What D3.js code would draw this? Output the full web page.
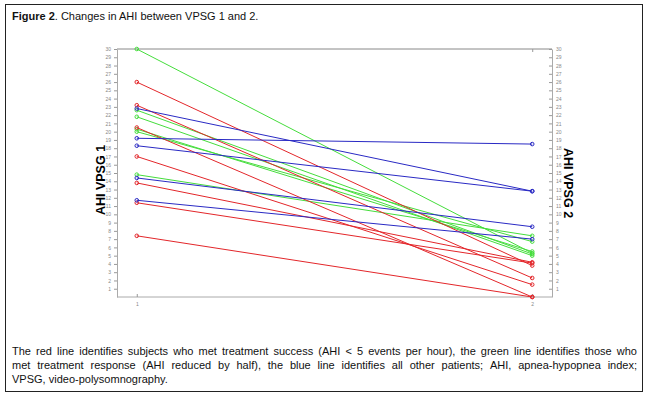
<!DOCTYPE html>
<html>
<head>
<meta charset="utf-8">
<script src="https://cdn.jsdelivr.net/npm/d3@7"></script>
<style>
body{margin:0;background:#fff;}
svg{display:block;font-family:"Liberation Sans",Arial,sans-serif;}
</style>
</head>
<body>
<div id="plot"></div>
<script>
// AHI per subject at the two sessions, and response group
var vpsg1 = [30, 22.6, 21.8, 20.3, 20.0, 14.8,
	26, 23.2, 20.5, 17.0, 13.8, 11.4, 7.4,
	22.8, 19.2, 18.3, 14.4, 11.7];
var vpsg2 = [5.3, 5.2, 5.0, 5.5, 6.7, 7.4,
	3.8, 2.3, 0, 1.5, 4.2, 4.1, 0,
	12.8, 18.5, 12.8, 8.5, 7.0];
var group = ['response','response','response','response','response','response',
	'success','success','success','success','success','success','success',
	'other','other','other','other','other'];
var sessions = [1, 2];
var yTicks = d3.range(1, 31);

var captionLines = [
	'The red line identifies subjects who met treatment success (AHI < 5 events per hour), the green line identifies those who',
	'met treatment response (AHI reduced by half), the blue line identifies all other patients; AHI, apnea-hypopnea index;',
	'VPSG, video-polysomnography.'
];

var W = 648, H = 397;
var m = {t:49, r:96, b:100, l:117},
	w = W - m.l - m.r,
	h = H - m.t - m.b;

var color = d3.scaleOrdinal()
	.domain(['success','response','other'])
	.range(['#e3262a','#45dd3c','#2a2ac4']);

var svg = d3.select('#plot').append('svg')
	.attr('width',W).attr('height',H);

// outer frame
svg.append('rect')
	.attr('x',5.5).attr('y',4.5).attr('width',637).attr('height',387)
	.style('fill','none').style('stroke','#222').style('stroke-width',1);

var title = svg.append('text').attr('x',12).attr('y',20)
	.style('font-size','11px').style('fill','#111');
title.append('tspan').style('font-weight','bold').text('Figure 2');
title.append('tspan').text('. Changes in AHI between VPSG 1 and 2.');

var plot = svg.append('g')
	.attr('transform','translate('+m.l+','+m.t+')');

var x = d3.scaleLinear().domain([0.95,2.05]).range([0,w]);
var y = d3.scaleLinear().domain([0,30]).range([h,0]);

// frame of plot: bottom and top lines
plot.append('line').attr('x1',0).attr('x2',w).attr('y1',h).attr('y2',h)
	.style('stroke','#aaa');
plot.append('line').attr('x1',0).attr('x2',w).attr('y1',0).attr('y2',0)
	.style('stroke','#888');

// left axis
var yLeft = plot.append('g')
	.call(d3.axisLeft(y).tickValues(yTicks).tickSize(3).tickSizeOuter(0).tickFormat(d3.format('d')));
var yRight = plot.append('g')
	.attr('transform','translate('+w+',0)')
	.call(d3.axisRight(y).tickValues(yTicks).tickSize(-3).tickSizeOuter(0).tickFormat(d3.format('d')));
yRight.selectAll('.tick text').attr('x',4);

var xBottom = plot.append('g')
	.attr('transform','translate(0,'+h+')')
	.call(d3.axisBottom(x).tickValues(sessions).tickSize(-3).tickSizeOuter(0).tickFormat(d3.format('d')));
xBottom.selectAll('.tick text').attr('y',5);
xBottom.select('.domain').remove();
var xTop = plot.append('g')
	.call(d3.axisTop(x).tickValues([2]).tickSize(-3).tickSizeOuter(0).tickFormat(''));
xTop.select('.domain').remove();

[yLeft,yRight,xBottom,xTop].forEach(function(a){
	a.selectAll('.domain').style('stroke','#aaa');
	a.selectAll('.tick line').style('stroke','#999');
	a.selectAll('.tick text').style('font-size','5px').style('fill','#888').style('font-family','"Liberation Sans",Arial,sans-serif');
});

// subjects
var subjects = vpsg1.map(function(d,i){
	return {g:group[i], v:[vpsg1[i], vpsg2[i]]};
});

var line = d3.line()
	.x(function(d,i){return x(sessions[i])})
	.y(function(d){return y(d)});

var subj = plot.selectAll('.subj').data(subjects).enter().append('g').attr('class','subj');
subj.append('path')
	.attr('d',function(d){return line(d.v)})
	.style('fill','none')
	.style('stroke',function(d){return color(d.g)})
	.style('stroke-width',1);
subj.selectAll('circle').data(function(d){
		return d.v.map(function(v,i){return {g:d.g, v:v, s:sessions[i]}});
	}).enter().append('circle')
	.attr('cx',function(d){return x(d.s)})
	.attr('cy',function(d){return y(d.v)})
	.attr('r',1.8)
	.style('fill','none')
	.style('stroke',function(d){return color(d.g)})
	.style('stroke-width',1);

// axis titles
svg.append('text')
	.attr('transform','translate(105,180) rotate(-90)')
	.attr('text-anchor','middle')
	.style('font-size','12.5px').style('font-weight','bold')
	.text('AHI VPSG 1');
svg.append('text')
	.attr('transform','translate(564,183) rotate(90)')
	.attr('text-anchor','middle')
	.style('font-size','12.5px').style('font-weight','bold')
	.text('AHI VPSG 2');

// justified caption
var cap = svg.append('g').style('font-size','11px').style('fill','#111');
var capX0 = 12, capX1 = 637;
captionLines.forEach(function(str,li){
	var words = str.split(' ');
	var yy = 355 + li*14;
	var nodes = words.map(function(wd){
		return cap.append('text').attr('y',yy).text(wd);
	});
	var widths = nodes.map(function(n){return n.node().getComputedTextLength()});
	var total = d3.sum(widths);
	var last = li === captionLines.length-1;
	var gap = last ? 3.1 : (capX1 - capX0 - total)/(words.length-1);
	var xx = capX0;
	nodes.forEach(function(n,i){
		n.attr('x',xx);
		xx += widths[i] + gap;
	});
});
</script>
</body>
</html>
